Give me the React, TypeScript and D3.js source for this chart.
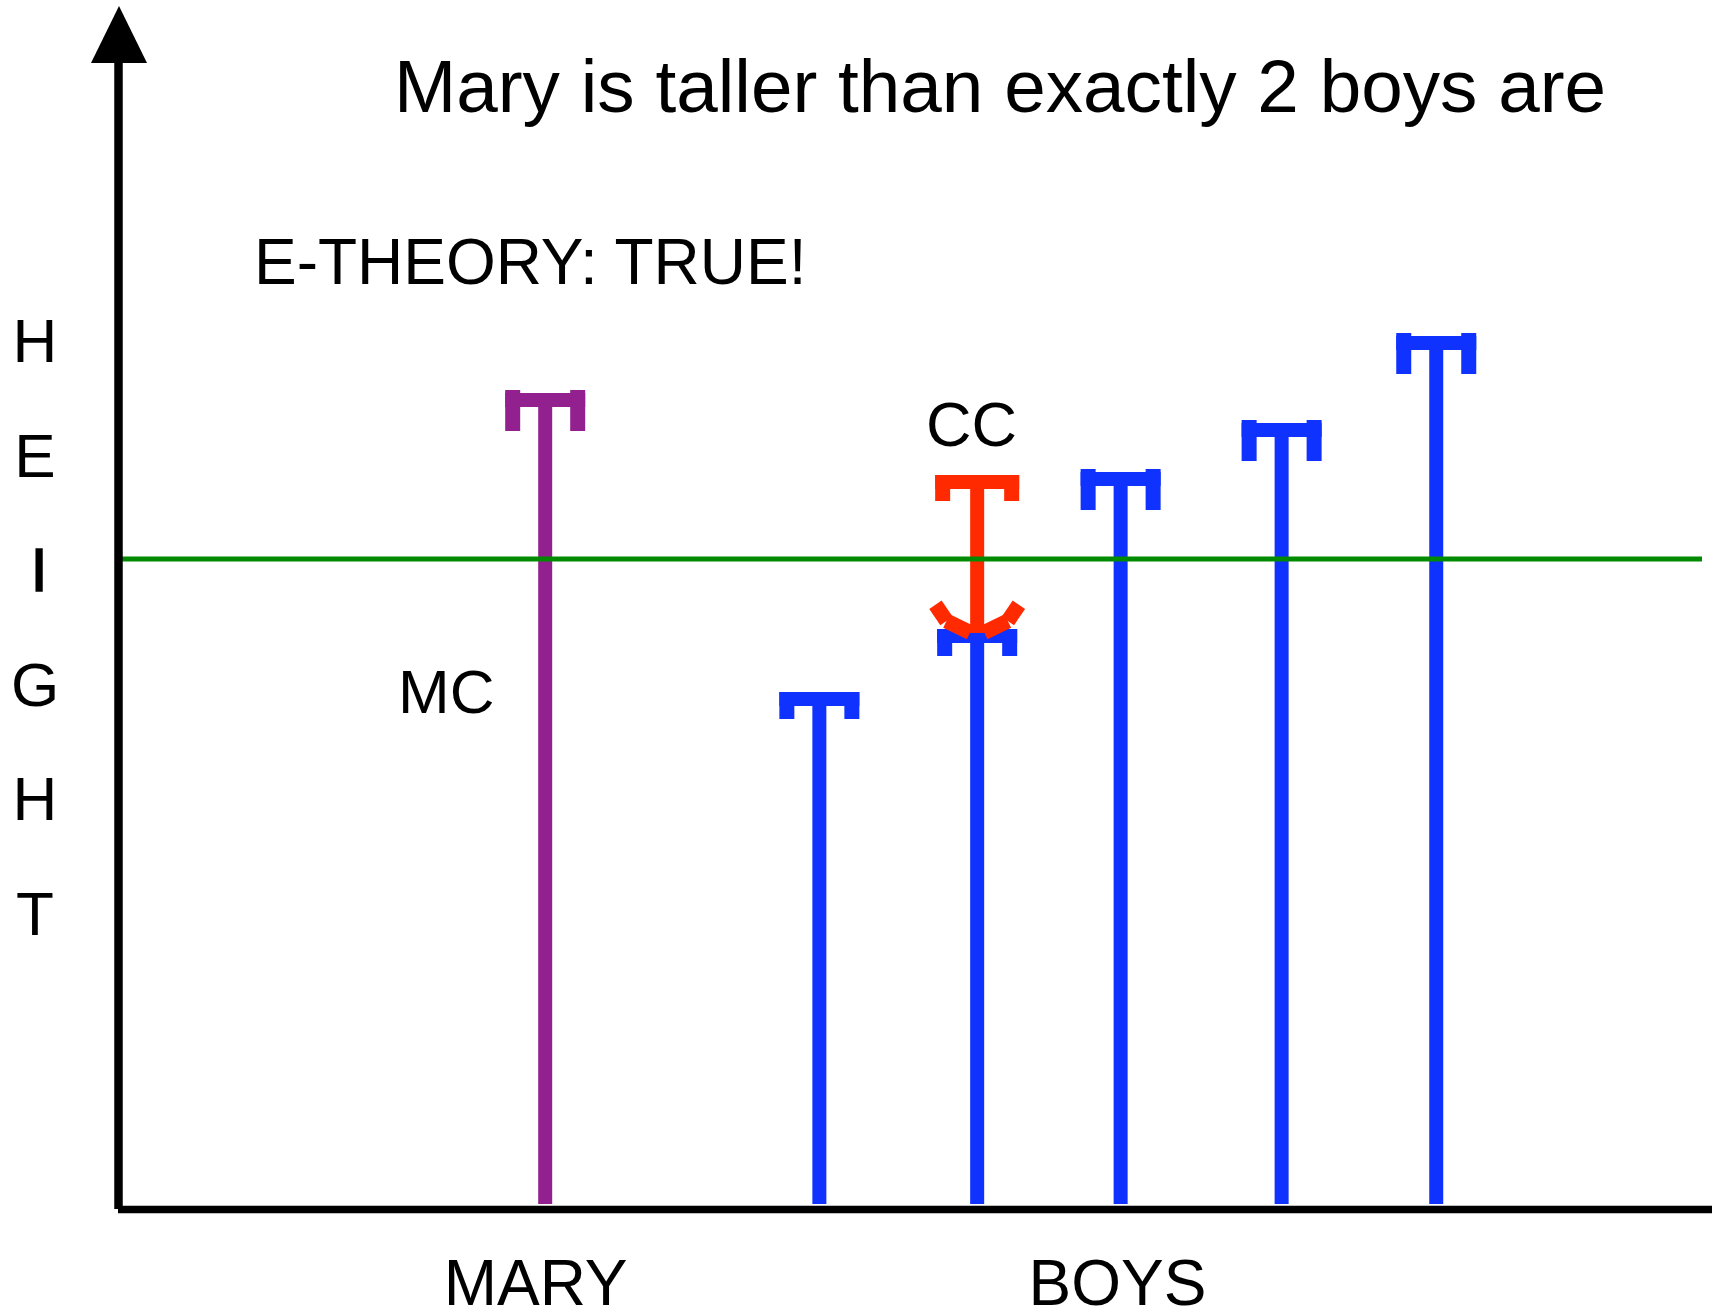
import React from "react";
import * as d3 from "d3";

// ---- data ----
const categories = ["Mary", "Boy 1", "Boy 2", "Boy 3", "Boy 4", "Boy 5"];
const groups = ["mary", "boy", "boy", "boy", "boy", "boy"];
const xPositions = [26.8, 44.0, 53.9, 62.9, 73.0, 82.7];
const heights = [81.1, 51.2, 57.5, 73.2, 78.1, 86.8];
const ccX = 53.9;
const ccTop = 72.9;
const ccBottom = 57.1;
const threshold = 64.5;
const axisLabels = ["MARY", "BOYS"];
const axisLabelX = [26.2, 62.7];
const yLetters = ["H", "E", "I", "G", "H", "T"];
const title = "Mary is taller than exactly 2 boys are";
const subtitle = "E-THEORY: TRUE!";
const ccLabel = "CC";
const mcLabel = "MC";

const W = 1712;
const H = 1314;
const FONT = "'Liberation Sans', Arial, Helvetica, sans-serif";
const colors: Record<string, string> = {
  mary: "#93208f",
  boy: "#0f32ff",
  cc: "#ff2a00",
  line: "#008a00",
};

const x = d3.scaleLinear().domain([0, 100]).range([118, 1712]);
const y = d3.scaleLinear().domain([0, 100]).range([1204, 204]);

const CAP_W = 80;
const BAR_T = 14;
const LEG_W = 15;
const STEM_W = 14;

function Cap({ cx, top, color, short }: { cx: number; top: number; color: string; short: boolean }) {
  const legTop = short ? top : top - 3;
  const legBot = short ? top + 27 : top + 38;
  return (
    <g fill={color}>
      <rect x={cx - CAP_W / 2} y={top} width={CAP_W} height={BAR_T} />
      <rect x={cx - CAP_W / 2} y={legTop} width={LEG_W} height={legBot - legTop} />
      <rect x={cx + CAP_W / 2 - LEG_W} y={legTop} width={LEG_W} height={legBot - legTop} />
    </g>
  );
}

export default function App() {
  const shortCaps = new Set([1, 2]);
  const ccCx = x(ccX);
  const ccBotY = y(ccBottom);
  // arc under CC
  const r = 45;
  const cy = ccBotY - r;
  const segs: [number, number][] = [
    [-68, -43],
    [-43, -9],
    [9, 43],
    [43, 68],
  ];
  const pt = (deg: number) => {
    const a = (deg * Math.PI) / 180;
    return [ccCx + r * Math.sin(a), cy + r * Math.cos(a)];
  };

  return (
    <svg
      width={W}
      height={H}
      style={{ position: "absolute", left: 0, top: 0, background: "#fff" }}
      fontFamily={FONT}
    >
      <rect x={0} y={0} width={W} height={H} fill="#fff" />

      {/* bars */}
      {categories.map((c, i) => {
        const cx = x(xPositions[i]);
        const top = y(heights[i]);
        const col = colors[groups[i]];
        return (
          <g key={c}>
            <rect x={cx - STEM_W / 2} y={top} width={STEM_W} height={y(0) - top} fill={col} />
            <Cap cx={cx} top={top} color={col} short={shortCaps.has(i)} />
          </g>
        );
      })}

      {/* CC red shape */}
      <g>
        <rect
          x={ccCx - 7}
          y={y(ccTop)}
          width={14}
          height={ccBotY - y(ccTop)}
          fill={colors.cc}
        />
        <g fill={colors.cc}>
          <rect x={ccCx - 42} y={y(ccTop)} width={84} height={BAR_T} />
          <rect x={ccCx - 42} y={y(ccTop)} width={15} height={26} />
          <rect x={ccCx + 42 - 15} y={y(ccTop)} width={15} height={26} />
        </g>
        {segs.map(([a0, a1], k) => {
          const p0 = pt(a0);
          const p1 = pt(a1);
          return (
            <line
              key={k}
              x1={p0[0]}
              y1={p0[1]}
              x2={p1[0]}
              y2={p1[1]}
              stroke={colors.cc}
              strokeWidth={15}
              strokeLinecap="butt"
            />
          );
        })}
        <rect x={ccCx - 11} y={ccBotY - 7} width={22} height={7} fill={colors.cc} />
      </g>

      {/* threshold line */}
      <line x1={122} x2={1702} y1={y(threshold)} y2={y(threshold)} stroke={colors.line} strokeWidth={4.8} />

      {/* axes */}
      <line x1={118.5} x2={118.5} y1={60} y2={1209} stroke="#000" strokeWidth={8.5} />
      <line x1={118} x2={1712} y1={1209.5} y2={1209.5} stroke="#000" strokeWidth={7.6} />
      <path d="M119,6 L147,63 L91,63 Z" fill="#000" />

      {/* texts */}
      <text x={394} y={112} fontSize={74.7} fill="#000">
        {title}
      </text>
      <text x={254} y={284} fontSize={64} fill="#000">
        {subtitle}
      </text>
      <text x={926} y={446} fontSize={63} fill="#000">
        {ccLabel}
      </text>
      <text x={398} y={713} fontSize={62} fill="#000">
        {mcLabel}
      </text>
      {yLetters.map((L, i) => (
        <text
          key={i}
          x={L === "I" ? 39 : 35}
          y={362 + i * 114.5}
          fontSize={62}
          textAnchor="middle"
          fill="#000"
          stroke={L === "I" ? "#000" : "none"}
          strokeWidth={L === "I" ? 1.5 : 0}
        >
          {L}
        </text>
      ))}
      {axisLabels.map((L, i) => (
        <text key={L} x={x(axisLabelX[i])} y={1305} fontSize={64} textAnchor="middle" fill="#000">
          {L}
        </text>
      ))}
    </svg>
  );
}
